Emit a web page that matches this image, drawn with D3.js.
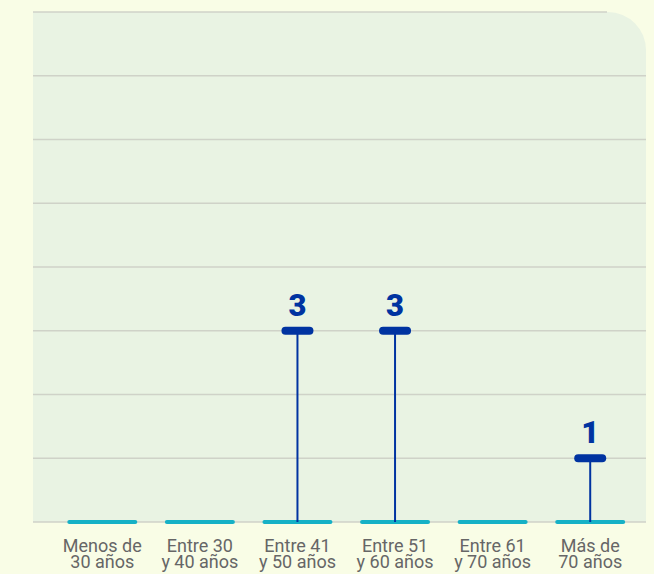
<!DOCTYPE html>
<html><head><meta charset="utf-8">
<script src="https://cdn.jsdelivr.net/npm/d3@7"></script>
<style>
html,body{margin:0;padding:0;background:#f9fde6;}
svg{display:block;}
</style></head>
<body>
<svg id="chart" width="654" height="574"></svg>
<script>
const categories = [["Menos de","30 años"],["Entre 30","y 40 años"],["Entre 41","y 50 años"],["Entre 51","y 60 años"],["Entre 61","y 70 años"],["Más de","70 años"]];
const values = [0,0,3,3,0,1];
const yTicks = [0,1,2,3,4,5,6,7,8];

(function(){
const svg = d3.select("#chart");
const pL = 33, pR = 646, pT = 12, pB = 522;

const x = d3.scaleBand().domain(d3.range(categories.length)).range([53.5, 639]).padding(0);
const y = d3.scaleLinear().domain([0, 8]).range([pB, pT]);
const cx = i => x(i) + x.bandwidth() / 2;

// plot background with rounded top-right corner
const r = 38;
svg.append("path")
  .attr("d", `M${pL},${pT} H${pR - r} A${r},${r} 0 0 1 ${pR},${pT + r} V${pB} H${pL} Z`)
  .attr("fill", "#e9f3e3");

// gridlines
svg.append("g").selectAll("line").data(yTicks).join("line")
  .attr("x1", pL)
  .attr("x2", d => d === 8 ? 607 : pR)
  .attr("y1", d => y(d)).attr("y2", d => y(d))
  .attr("stroke", "#cfd2c8").attr("stroke-width", 1.5);

// baseline segments
svg.append("g").selectAll("line").data(values).join("line")
  .attr("x1", (d, i) => cx(i) - 33)
  .attr("x2", (d, i) => cx(i) + 33)
  .attr("y1", y(0)).attr("y2", y(0))
  .attr("stroke", "#16b1c6").attr("stroke-width", 4).attr("stroke-linecap", "round");

const nz = values.map((v, i) => ({v, i})).filter(d => d.v > 0);
// stems
svg.append("g").selectAll("line").data(nz).join("line")
  .attr("x1", d => cx(d.i)).attr("x2", d => cx(d.i))
  .attr("y1", y(0)).attr("y2", d => y(d.v))
  .attr("stroke", "#0033a1").attr("stroke-width", 2);
// caps
svg.append("g").selectAll("line").data(nz).join("line")
  .attr("x1", d => cx(d.i) - 12).attr("x2", d => cx(d.i) + 12)
  .attr("y1", d => y(d.v)).attr("y2", d => y(d.v))
  .attr("stroke", "#0033a1").attr("stroke-width", 8).attr("stroke-linecap", "round");
// value labels
svg.append("g").selectAll("text").data(nz).join("text")
  .attr("x", d => cx(d.i))
  .attr("y", d => y(d.v) - 15)
  .attr("text-anchor", "middle")
  .attr("font-family", "Roboto, sans-serif")
  .attr("font-weight", 900)
  .attr("font-size", 31)
  .attr("fill", "#0033a1")
  .text(d => d.v);

// category labels
const lab = svg.append("g").selectAll("text").data(categories).join("text")
  .attr("x", (d, i) => cx(i))
  .attr("y", 552)
  .attr("text-anchor", "middle")
  .attr("font-family", "Roboto, sans-serif")
  .attr("font-size", 18)
  .attr("fill", "#666666");
lab.each(function(d, i) {
  const t = d3.select(this);
  d.forEach((line, k) => {
    t.append("tspan").attr("x", cx(i)).attr("dy", k === 0 ? 0 : 16).text(line);
  });
});
})();
</script>
</body></html>
